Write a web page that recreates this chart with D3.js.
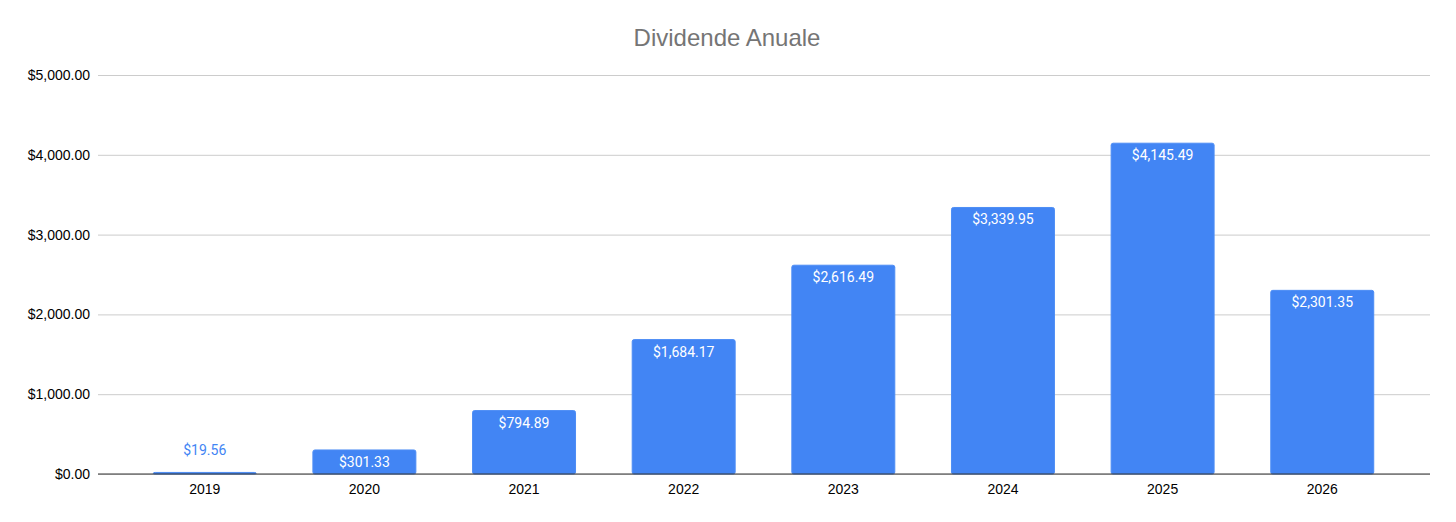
<!DOCTYPE html>
<html>
<head>
<meta charset="utf-8">
<script src="https://cdn.jsdelivr.net/npm/d3@7"></script>
<style>
  body { margin: 0; background: #fff; }
  svg text { font-family: "Liberation Sans", Arial, sans-serif; }
  .bar-label { font-family: Roboto, "Liberation Sans", sans-serif; }
</style>
</head>
<body>
<div id="chart"></div>
<script>
const years = ["2019", "2020", "2021", "2022", "2023", "2024", "2025", "2026"];
const dividends = [19.56, 301.33, 794.89, 1684.17, 2616.49, 3339.95, 4145.49, 2301.35];
const yTicks = [0, 1000, 2000, 3000, 4000, 5000];
const chartTitle = "Dividende Anuale";

const W = 1456, H = 522;
const plot = { left: 98, right: 1430, top: 75, bottom: 474 };

const svg = d3.select("#chart").append("svg")
  .attr("width", W)
  .attr("height", H);

const data = years.map((y, i) => ({ year: y, value: dividends[i] }));

const x = d3.scaleBand()
  .domain(years)
  .range([125, 1402])
  .paddingInner(0.355)
  .paddingOuter(0.177);

const y = d3.scaleLinear()
  .domain([0, 5000])
  .range([plot.bottom, plot.top]);

const money = d3.format("$,.2f");

// title
svg.append("text")
  .attr("x", 727)
  .attr("y", 46)
  .attr("text-anchor", "middle")
  .attr("fill", "#757575")
  .style("font-size", "24px")
  .text(chartTitle);

// gridlines + y labels
const yAxis = svg.append("g")
  .attr("transform", `translate(${plot.left},0)`)
  .call(d3.axisLeft(y).tickValues(yTicks).tickFormat(money)
    .tickSize(-(plot.right - plot.left)).tickPadding(8));
yAxis.select(".domain").remove();
yAxis.selectAll(".tick line").attr("stroke", "#cccccc");
yAxis.selectAll(".tick text")
  .attr("fill", "#000")
  .style("font-size", "14px");

// bars
svg.append("g").selectAll("rect")
  .data(data)
  .join("rect")
  .attr("x", d => x(d.year))
  .attr("y", d => y(d.value))
  .attr("width", x.bandwidth())
  .attr("height", d => plot.bottom - y(d.value))
  .attr("rx", 2)
  .attr("fill", "#4285f4")
  .attr("stroke", "#4d8df5")
  .attr("stroke-width", 1);

// bar labels: inside if tall enough, else above
svg.append("g").selectAll("text")
  .data(data)
  .join("text")
  .attr("class", "bar-label")
  .attr("x", d => x(d.year) + x.bandwidth() / 2)
  .attr("y", d => (plot.bottom - y(d.value) > 24) ? y(d.value) + 17 : y(d.value) - 17)
  .attr("text-anchor", "middle")
  .attr("fill", d => (plot.bottom - y(d.value) > 24) ? "#ffffff" : "#4285f4")
  .style("font-size", "14px")
  .text(d => money(d.value));

// baseline
svg.append("line")
  .attr("x1", plot.left)
  .attr("x2", plot.right)
  .attr("y1", y(0))
  .attr("y2", y(0))
  .attr("stroke", "#333333")
  .attr("stroke-width", 1);

// x labels
const xAxis = svg.append("g")
  .attr("transform", `translate(0,${plot.bottom})`)
  .call(d3.axisBottom(x).tickSize(0).tickPadding(10));
xAxis.select(".domain").remove();
xAxis.selectAll(".tick text")
  .attr("fill", "#000")
  .style("font-size", "14px");
</script>
</body>
</html>
